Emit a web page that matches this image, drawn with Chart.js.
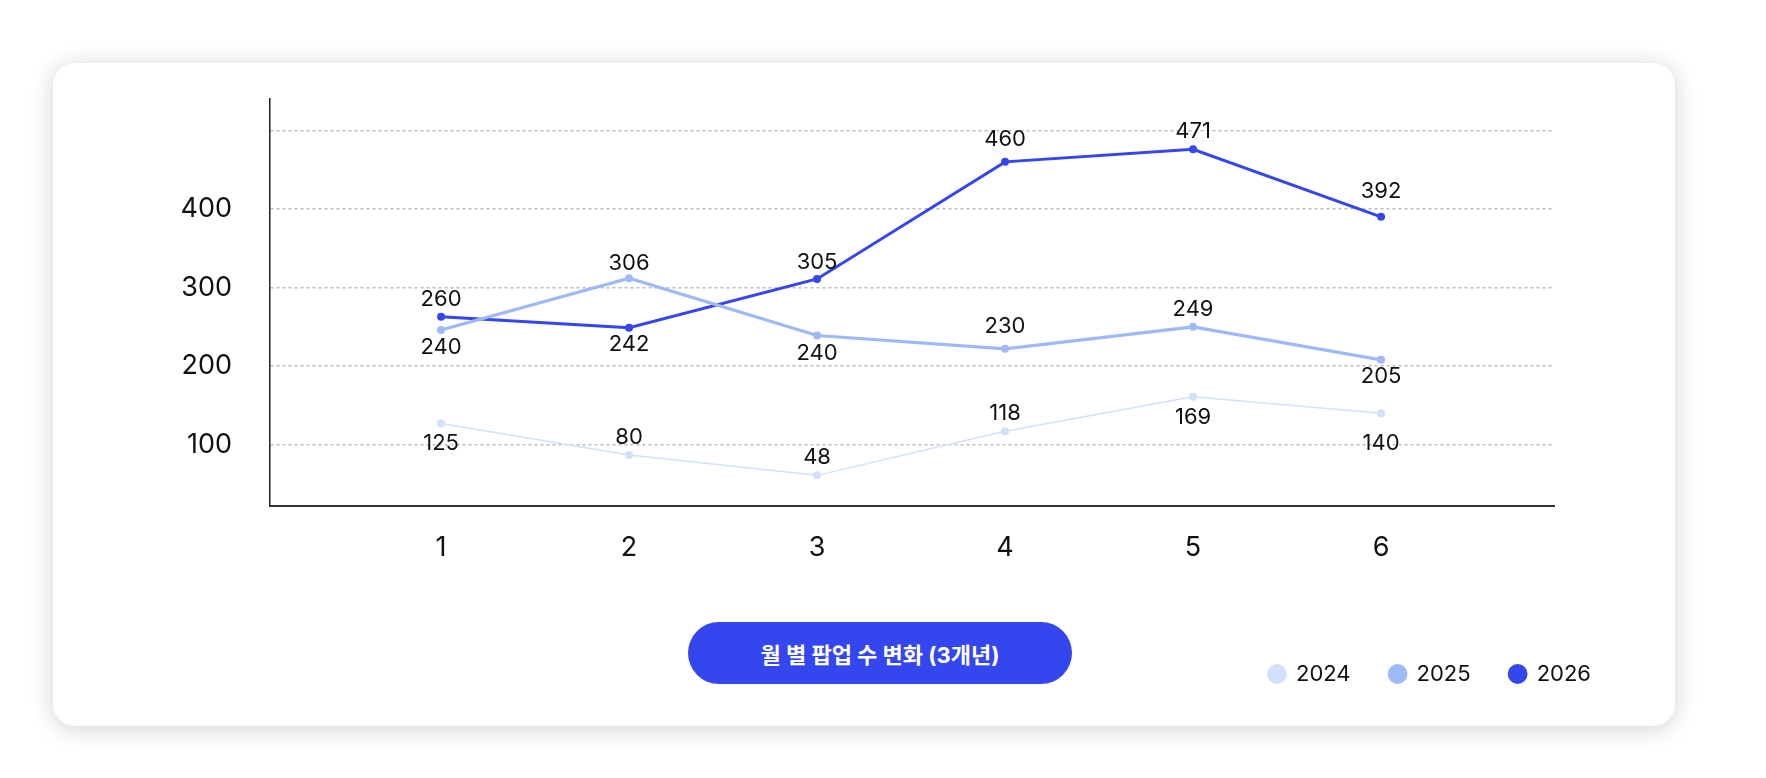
<!DOCTYPE html>
<html lang="ko">
<head>
<meta charset="utf-8">
<title>월 별 팝업 수 변화</title>
<script src="https://cdn.jsdelivr.net/npm/chart.js@4.4.1/dist/chart.umd.min.js"></script>
<style>
    html, body { margin: 0; padding: 0; background: #fff; }
    body { width: 1766px; height: 778px; position: relative; overflow: hidden; font-family: Inter, "Noto Sans CJK KR", sans-serif; }
    .card {
        position: absolute; left: 53px; top: 63px; width: 1622px; height: 663px;
        background: #fff; border-radius: 22px;
        box-shadow: 0 3px 24px rgba(0, 0, 0, 0.18);
    }
    .chart-box { position: absolute; left: 0; top: 0; width: 1622px; height: 663px; }
    .title-pill {
        position: absolute; left: 635px; top: 559px; width: 384px; height: 62px;
        border-radius: 31px; background: #3446EE; color: #fff;
        font: 700 22px Inter, "Noto Sans CJK KR", sans-serif;
        display: flex; align-items: center; justify-content: center;
    }
</style>
</head>
<body>
<div class="card">
    <div class="chart-box"><canvas id="popupChart"></canvas></div>
    <div class="title-pill">월 별 팝업 수 변화 (3개년)</div>
</div>
<script>
// --- Data ---
const months = [1, 2, 3, 4, 5, 6];
const years = ['2024', '2025', '2026'];

// plotted values
const values2024 = [127, 87, 61, 117, 161, 140];
const values2025 = [246, 312, 239, 222, 250, 208];
const values2026 = [263, 249, 311, 460, 476, 390];

// numbers printed next to each point
const shown2024 = [125, 80, 48, 118, 169, 140];
const shown2025 = [240, 306, 240, 230, 249, 205];
const shown2026 = [260, 242, 305, 460, 471, 392];

const yTicks = [100, 200, 300, 400, 500];
const yTickLabels = ['100', '200', '300', '400', ''];

// label placement (px, + = below the point)
const labelShift = [
    [20, -18, -18, -18, 21, 30],
    [17, -15, 18, -22, -17, 17],
    [-17, 17, -17, -22, -18, -25]
];

const colors = ['#D2E1FB', '#9DB9F8', '#3446EE'];
const widths = [1.5, 3.2, 3];

function toPoints(vals) {
    return months.map((m, i) => ({ x: m, y: vals[i] }));
}

// draws the printed number beside each point
const pointLabels = {
    id: 'pointLabels',
    afterDatasetsDraw(chart) {
        const ctx = chart.ctx;
        ctx.save();
        ctx.font = '22px Inter';
        ctx.fillStyle = '#111';
        ctx.textAlign = 'center';
        ctx.textBaseline = 'middle';
        chart.data.datasets.forEach((ds, i) => {
            chart.getDatasetMeta(i).data.forEach((pt, j) => {
                ctx.fillText(String(ds.shown[j]), pt.x, pt.y + labelShift[i][j]);
            });
        });
        ctx.restore();
    }
};

const seriesValues = [values2024, values2025, values2026];
const seriesShown = [shown2024, shown2025, shown2026];

new Chart(document.getElementById('popupChart'), {
    type: 'line',
    data: {
        datasets: years.map((yr, i) => ({
            label: yr,
            data: toPoints(seriesValues[i]),
            shown: seriesShown[i],
            borderColor: colors[i],
            backgroundColor: colors[i],
            borderWidth: widths[i],
            pointRadius: 4,
            pointHoverRadius: 4,
            pointBorderWidth: 0,
            pointBackgroundColor: colors[i],
            tension: 0
        }))
    },
    options: {
        responsive: true,
        maintainAspectRatio: false,
        animation: false,
        layout: { padding: { top: 36, right: 45, bottom: 31, left: 0 } },
        scales: {
            x: {
                type: 'linear',
                min: 0.09,
                max: 6.92,
                afterBuildTicks: s => { s.ticks = months.map(v => ({ value: v })); },
                afterFit: s => { s.height = 118; },
                grid: { display: false },
                border: { display: true, color: '#333', width: 2 },
                ticks: { color: '#111', padding: 18, font: { size: 27, family: 'Inter' } }
            },
            y: {
                type: 'linear',
                min: 22,
                max: 540,
                afterBuildTicks: s => { s.ticks = yTicks.map(v => ({ value: v })); },
                afterFit: s => {
                    s.width = 217;
                    s.paddingTop = 0;
                    s.paddingBottom = 0;
                },
                grid: { color: '#bdbdbd', lineWidth: 1.5, drawTicks: false },
                border: { display: true, color: '#222', width: 1.5, dash: [3, 3] },
                ticks: {
                    color: '#111',
                    padding: 38,
                    font: { size: 27, family: 'Inter' },
                    callback: (v) => yTickLabels[yTicks.indexOf(v)] ?? ''
                }
            },
            pad: {
                type: 'linear',
                position: 'right',
                display: true,
                grid: { display: false },
                border: { display: false },
                ticks: { display: false },
                afterFit: s => { s.width = 76; }
            }
        },
        plugins: {
            legend: {
                position: 'bottom',
                align: 'end',
                labels: {
                    usePointStyle: true,
                    pointStyle: 'circle',
                    boxWidth: 16,
                    boxHeight: 14,
                    padding: 39,
                    color: '#111',
                    font: { size: 22, family: 'Inter' }
                }
            },
            tooltip: { enabled: false }
        }
    },
    plugins: [pointLabels]
});
</script>
</body>
</html>
